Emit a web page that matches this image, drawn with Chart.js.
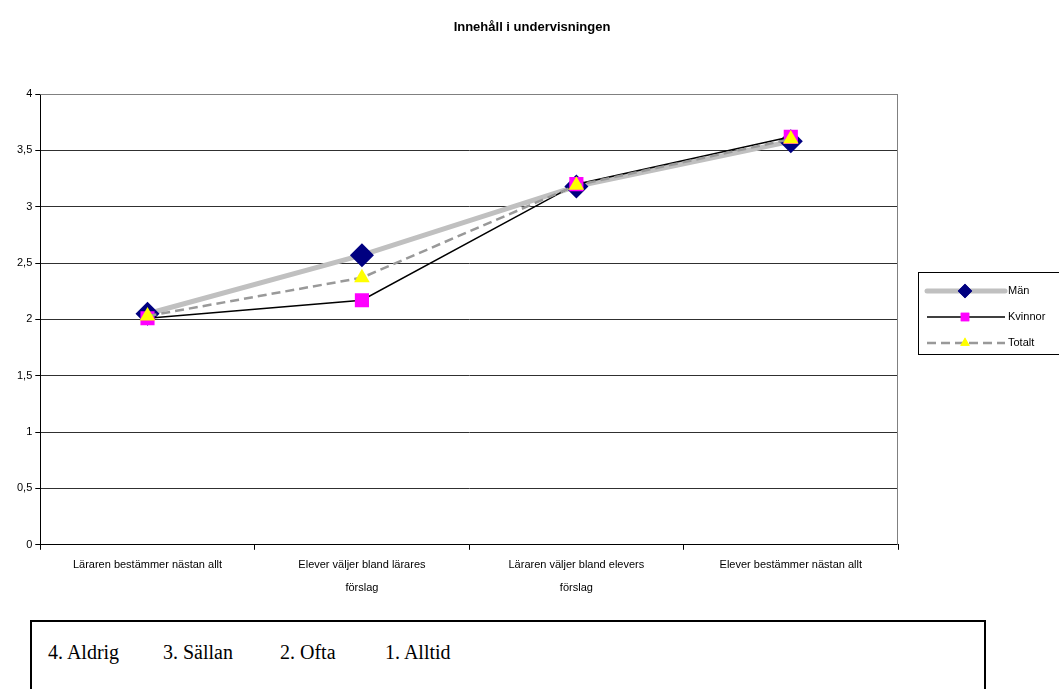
<!DOCTYPE html>
<html>
<head>
<meta charset="utf-8">
<script src="https://cdn.jsdelivr.net/npm/chart.js@4.4.1/dist/chart.umd.min.js"></script>
<style>
  body { margin: 0; background: #fff; width: 1059px; height: 689px; overflow: hidden; position: relative; }
  #wrap { position: absolute; left: 0; top: 0; width: 1059px; height: 612px; }
  #scale-box {
    position: absolute; left: 30px; top: 620px; width: 956px; height: 80px;
    border: 2px solid #000; box-sizing: border-box;
    font-family: "Liberation Serif", "Times New Roman", serif; font-size: 20px; color: #000;
  }
  #scale-box span { position: absolute; top: 19px; }
</style>
</head>
<body>
<div id="wrap"><canvas id="myChart" width="1059" height="612"></canvas></div>
<div id="scale-box">
  <span style="left:16px">4. Aldrig</span>
  <span style="left:131px">3. Sällan</span>
  <span style="left:248px">2. Ofta</span>
  <span style="left:353px">1. Alltid</span>
</div>
<script>
// Kategorier och värden
const chartTitle = "Innehåll i undervisningen";
const categories = [
  "Läraren bestämmer nästan allt",
  ["Elever väljer bland lärares", "förslag"],
  ["Läraren väljer bland elevers", "förslag"],
  "Elever bestämmer nästan allt"
];
const seriesNames = ["Män", "Kvinnor", "Totalt"];
const manValues = [2.05, 2.57, 3.18, 3.58];
const kvinnorValues = [2.01, 2.17, 3.2, 3.62];
const totaltValues = [2.03, 2.37, 3.19, 3.6];
const yTicks = [0, 0.5, 1, 1.5, 2, 2.5, 3, 3.5, 4];

document.addEventListener("DOMContentLoaded", function () {
  const font = "Arial, 'Liberation Sans', sans-serif";
  const styles = [
    { line: "#c0c0c0", width: 5, dash: [], marker: "rectRot", fill: "#000080", radius: 12 },
    { line: "#000000", width: 1.5, dash: [], marker: "rect", fill: "#ff00ff", radius: 10 },
    { line: "#999999", width: 2.5, dash: [9, 5], marker: "triangle", fill: "#ffff00", radius: 9 }
  ];
  const values = [manValues, kvinnorValues, totaltValues];

  // Titel centrerad över hela bilden
  const titlePlugin = {
    id: "titlePlugin",
    afterDraw(chart) {
      const ctx = chart.ctx;
      ctx.save();
      ctx.font = "bold 13px " + font;
      ctx.fillStyle = "#000";
      ctx.textAlign = "center";
      ctx.textBaseline = "middle";
      ctx.fillText(chartTitle, 532, 27);
      ctx.restore();
    }
  };

  // Ram runt ritytan (grå överkant/högerkant)
  const plotBorder = {
    id: "plotBorder",
    beforeDatasetsDraw(chart) {
      const a = chart.chartArea;
      const ctx = chart.ctx;
      ctx.save();
      ctx.strokeStyle = "#808080";
      ctx.lineWidth = 1;
      ctx.beginPath();
      ctx.moveTo(a.left, a.top + 0.5);
      ctx.lineTo(a.right - 0.5, a.top + 0.5);
      ctx.lineTo(a.right - 0.5, a.bottom);
      ctx.stroke();
      ctx.restore();
    }
  };

  // Egen förklaring i ruta till höger
  const boxLegend = {
    id: "boxLegend",
    afterDraw(chart) {
      const ctx = chart.ctx;
      const x0 = 918, y0 = 272, w = 150, h = 82;
      ctx.save();
      ctx.strokeStyle = "#000";
      ctx.lineWidth = 1;
      ctx.strokeRect(x0 + 0.5, y0 + 0.5, w, h);
      ctx.font = "11px " + font;
      ctx.textBaseline = "middle";
      seriesNames.forEach((name, i) => {
        const s = styles[i];
        const y = 291 + i * 26;
        ctx.strokeStyle = s.line;
        ctx.lineWidth = s.width;
        ctx.lineCap = i === 0 ? "round" : "butt";
        ctx.setLineDash(s.dash);
        ctx.beginPath();
        ctx.moveTo(927, y);
        ctx.lineTo(1005, y);
        ctx.stroke();
        ctx.setLineDash([]);
        ctx.fillStyle = s.fill;
        Chart.helpers.drawPoint(ctx, { pointStyle: s.marker, radius: s.radius * 0.6, borderWidth: 0 }, 965, y);
        ctx.fill();
        ctx.fillStyle = "#000";
        ctx.fillText(name, 1008, y);
      });
      ctx.restore();
    }
  };

  const data = {
    labels: categories,
    datasets: seriesNames.map((name, i) => ({
      label: name,
      data: values[i],
      order: seriesNames.length - i,
      borderColor: styles[i].line,
      borderWidth: styles[i].width,
      borderDash: styles[i].dash,
      pointStyle: styles[i].marker,
      pointRadius: styles[i].radius,
      pointBackgroundColor: styles[i].fill,
      pointBorderWidth: 0,
      pointBorderColor: styles[i].fill,
      tension: 0,
      fill: false
    }))
  };

  const config = {
    type: "line",
    data: data,
    options: {
      responsive: false,
      animation: false,
      layout: { padding: { left: 14, right: 161, top: 94, bottom: 8 } },
      plugins: {
        legend: { display: false },
        tooltip: { enabled: false },
        title: { display: false }
      },
      scales: {
        x: {
          offset: true,
          grid: {
            offset: true,
            drawOnChartArea: false,
            drawTicks: true,
            tickLength: 5,
            color: "#000"
          },
          border: { color: "#000", width: 1 },
          ticks: {
            color: "#000",
            font: { family: font, size: 11, lineHeight: 2.1 },
            maxRotation: 0,
            autoSkip: false,
            padding: 4
          }
        },
        y: {
          min: 0,
          max: 4,
          afterBuildTicks(axis) {
            axis.ticks = yTicks.map((v) => ({ value: v }));
          },
          grid: {
            color: (c) => (c.tick && c.tick.value === 4 ? "#808080" : "#303030"),
            tickColor: "#000",
            tickLength: 5,
            lineWidth: 1
          },
          border: { color: "#000", width: 1 },
          ticks: {
            color: "#000",
            font: { family: font, size: 11 },
            padding: 3,
            callback: (v) => String(v).replace(".", ",")
          }
        }
      }
    },
    plugins: [plotBorder, boxLegend, titlePlugin]
  };

  const chartElement = document.getElementById("myChart");
  if (chartElement) {
    new Chart(chartElement, config);
  }
});
</script>
</body>
</html>
